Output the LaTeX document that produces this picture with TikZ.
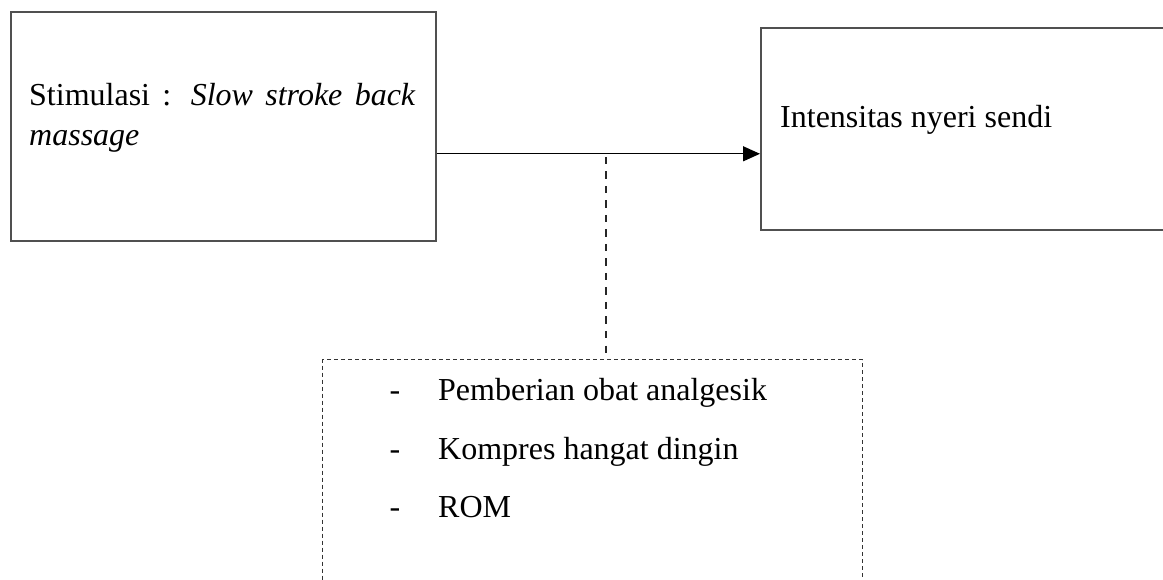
\documentclass[tikz,border=0pt]{standalone}
\usepackage{fontspec}
\setmainfont{Liberation Serif}
\usetikzlibrary{arrows.meta,positioning}
\definecolor{edgegray}{RGB}{80,80,80}

\begin{document}
\begin{tikzpicture}[x=1pt, y=-1pt, font=\fontsize{32}{40}\selectfont,
      box/.style={rectangle, draw=edgegray, line width=1.6pt, anchor=north west, inner sep=0pt},
      dashbox/.style={box, draw=black!80, line width=1.4pt, dash pattern=on 4pt off 3pt},
      dashline/.style={draw=black!85, line width=1.7pt, dash pattern=on 7.5pt off 7pt, dash phase=-4pt},
      txt/.style={anchor=base west, inner sep=0pt},
      strip/.style={anchor=base, inner sep=0pt},
      arrow/.style={line width=1.3pt, -{Triangle[length=17pt, width=15pt]}}]
    \useasboundingbox (0,0) rectangle (1163,580);
    \clip (0,0) rectangle (1163,580);
    \node[box, minimum width=425pt, minimum height=229pt] (stim) at (10,11) {};
    \node[box, minimum width=480pt, minimum height=202pt] (nyeri) at (760,27) {};
    \node[dashbox, minimum width=540pt, minimum height=300pt] (faktor) at (322,359) {};
    \node[anchor=north west, inner sep=0pt, text width=386pt, align=justify] (stimtext) at (29,83)
      {Stimulasi : \textit{Slow stroke back massage}};
    \node[txt] (nyeritext) at (780,128) {Intensitas nyeri sendi};
    \node[txt] (obat) at (438,400) {Pemberian obat analgesik};
    \node[txt] (kompres) at (438,459) {Kompres hangat dingin};
    \node[txt] (rom) at (438,517) {ROM};
    \node[strip] (d1) at (395,400) {-};
    \node[strip] (d2) at (395,459) {-};
    \node[strip] (d3) at (395,517) {-};
    \coordinate (cabang) at (606,153);
    \draw[arrow] ([yshift=-27.5pt]stim.east) -- ([yshift=-25pt]nyeri.west);
    \draw[dashline] (cabang) -- (cabang |- faktor.north);
  \end{tikzpicture}
\end{document}
